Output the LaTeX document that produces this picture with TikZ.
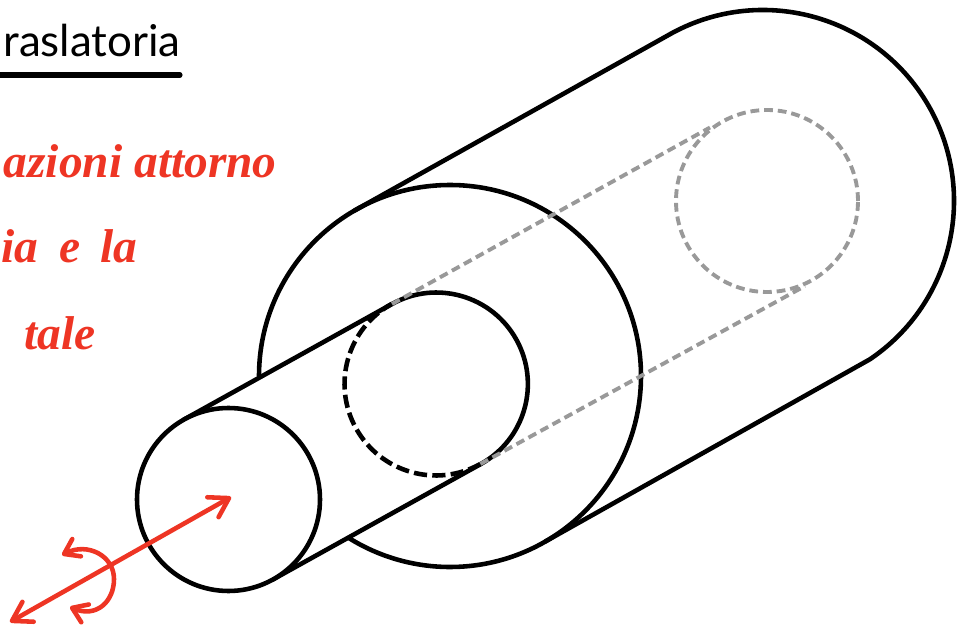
\documentclass[tikz,border=0pt]{standalone}
\usepackage{fontspec}
\setsansfont{Lato}
\newfontfamily\notefont{Liberation Serif}
\usetikzlibrary{arrows.meta}
\definecolor{ink}{HTML}{000000}
\definecolor{pen}{HTML}{EE3524}
\definecolor{ghost}{HTML}{999999}
\tikzset{
  solidline/.style={ink,line width=2.6pt,line cap=round},
  hiddenline/.style={ink,line width=2.6pt,dash pattern=on 7.5pt off 3pt},
  ghostline/.style={ghost,line width=2.2pt,dash pattern=on 5pt off 2.8pt},
  penline/.style={pen,line width=2.6pt,line cap=round,
    >={Straight Barb[length=10.5pt,width=13pt,round]}},
  turnline/.style={penline,>={Straight Barb[length=8pt,width=11pt,round]}},
  headtext/.style={font=\sffamily\fontsize{25}{25}\selectfont,text=ink,inner sep=0pt,anchor=base east},
  redtext/.style={font=\notefont\itshape\bfseries\fontsize{27}{27}\selectfont,text=pen,inner sep=0pt,anchor=base east}
}

\begin{document}
\begin{tikzpicture}[x=.02cm,y=.02cm]
  \useasboundingbox (0,0) rectangle (971,626);
  \node[headtext] (title) at (181,569) {raslatoria};
  \draw[ink,line width=2.9pt,line cap=round] (0,551)--(180,551);
  \node[redtext] (noteA) at (277,448) {azioni attorno};
  \node[redtext] (noteB) at (138,363) {ia \hspace{5pt}e \hspace{5pt}la};
  \node[redtext] (noteC) at (96,276) {tale};
  \draw[solidline] (354.5,415.4)--(667.5,590.4)
    arc[start angle=120,end angle=-56,radius=191]--(545.5,84.6);
  \draw[solidline] (259,250) arc[start angle=180,end angle=-122,radius=191];
  \draw[solidline] (184,206.5)--(392,322)
    arc[start angle=119,end angle=-61,radius=91.5]--(272.9,46.5);
  \draw[hiddenline] (480.4,162) arc[start angle=-61,end angle=-241,radius=91.5];
  \draw[solidline,fill=white] (228.5,126.5) circle (91.5);
  \draw[ghostline] (767,425) circle (91);
  \draw[ghostline] (392,322)--(710,498.5);
  \draw[ghostline] (480.4,162)--(805,340);
  \draw[penline,<->] (10,4)--(231,129);
  \draw[turnline,<->] (62,71) .. controls (88,84) and (114,70) .. (114,47)
    .. controls (114,24) and (96,8) .. (70,19);
\end{tikzpicture}
\end{document}
